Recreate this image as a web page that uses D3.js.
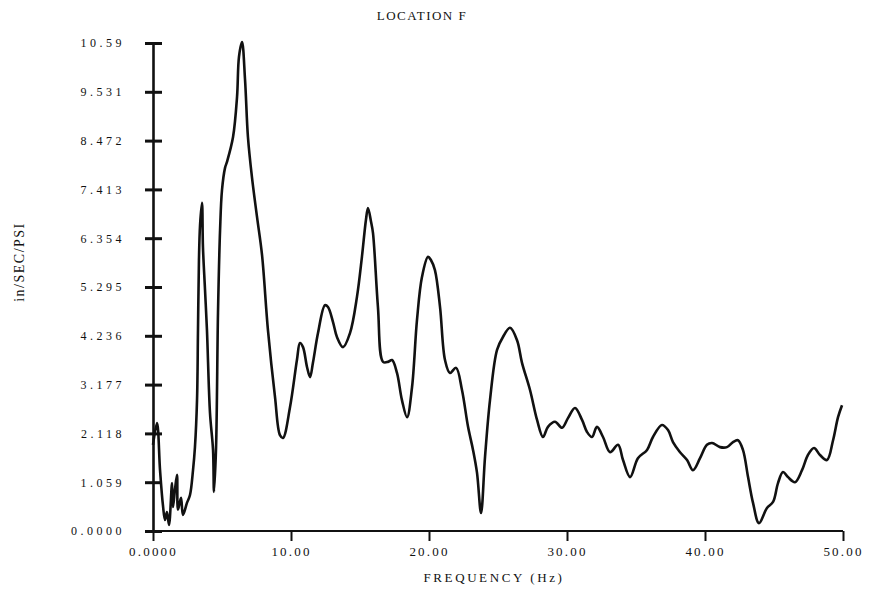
<!DOCTYPE html>
<html><head><meta charset="utf-8">
<script src="https://cdn.jsdelivr.net/npm/d3@7"></script>
<style>body{margin:0;background:#fff}svg text{font-family:"Liberation Serif","DejaVu Serif",serif;fill:#111}</style>
</head><body>
<svg id="c" width="871" height="593"></svg>
<script>
const freq = [0,0.29,0.51,0.72,0.87,1.01,1.16,1.38,1.45,1.59,1.74,1.81,2.03,2.17,2.46,2.68,2.90,3.04,3.19,3.26,3.33,3.41,3.55,3.62,3.77,3.91,4.13,4.35,4.42,4.57,4.71,4.86,5.0,5.22,5.36,5.80,6.09,6.23,6.45,6.67,6.88,7.17,7.54,7.90,8.33,8.84,9.20,9.42,9.93,10.43,10.65,10.87,11.16,11.38,11.59,11.96,12.46,12.68,13.04,13.33,13.77,14.28,14.78,15.14,15.43,15.58,15.80,15.94,16.30,16.67,17.03,17.32,17.68,18.04,18.41,18.77,19.13,19.49,19.93,20.14,20.43,20.80,21.16,21.52,21.96,22.39,22.83,23.19,23.48,23.77,24.06,24.42,24.93,25.36,25.87,26.38,26.74,27.32,27.83,28.26,28.62,29.13,29.64,30.07,30.58,31.09,31.45,31.81,32.17,32.61,33.12,33.70,34.06,34.57,35.14,35.80,36.23,36.88,37.32,37.68,38.19,38.70,39.13,39.64,40.14,40.51,41.09,41.59,42.03,42.39,42.75,43.12,43.48,43.91,44.49,44.93,45.29,45.65,46.01,46.52,47.03,47.46,47.90,48.33,48.84,49.28,49.64,49.93];
const resp = [1.87,2.34,1.32,0.56,0.24,0.41,0.13,1.04,0.52,0.89,1.22,0.46,0.72,0.35,0.61,0.78,1.32,1.82,2.84,4.36,5.88,6.64,7.12,6.16,5.23,4.36,2.56,1.76,0.85,1.82,4.73,6.53,7.40,7.88,8.01,8.55,9.42,10.29,10.61,9.79,8.55,7.68,6.81,5.99,4.36,2.91,2.08,2.02,2.69,3.71,4.08,3.99,3.56,3.34,3.65,4.30,4.90,4.86,4.54,4.21,3.99,4.30,5.08,5.95,6.75,7.01,6.71,6.47,4.86,3.67,3.67,3.71,3.43,2.84,2.47,3.12,4.58,5.51,5.95,5.88,5.66,4.86,3.71,3.43,3.54,3.06,2.26,1.76,1.26,0.39,1.61,2.84,3.93,4.21,4.41,4.14,3.65,3.06,2.41,2.04,2.26,2.37,2.24,2.45,2.67,2.41,2.15,2.04,2.26,2.04,1.71,1.87,1.54,1.17,1.58,1.76,2.04,2.30,2.19,1.93,1.71,1.54,1.32,1.58,1.87,1.91,1.82,1.82,1.93,1.97,1.76,1.17,0.61,0.17,0.50,0.63,1.04,1.28,1.17,1.06,1.32,1.65,1.80,1.65,1.54,1.97,2.47,2.73];
const xTicks = [0,10,20,30,40,50];
const xTickLabels = ["0.0000","10.00","20.00","30.00","40.00","50.00"];
const yTicks = [0,1.059,2.118,3.177,4.236,5.295,6.354,7.413,8.472,9.531,10.59];
const yTickLabels = ["0.0000","1.059","2.118","3.177","4.236","5.295","6.354","7.413","8.472","9.531","10.59"];
const title = "LOCATION F", xTitle = "FREQUENCY (Hz)", yTitle = "in/SEC/PSI";

const svg = d3.select("#c");
const x = d3.scaleLinear().domain([0,50]).range([153,843]);
const y = d3.scaleLinear().domain([0,10.59]).range([531,43]);

// x axis
const xa = svg.append("g").attr("transform","translate(0,531)")
  .call(d3.axisBottom(x).tickValues(xTicks).tickFormat((d,i)=>xTickLabels[i]).tickSize(10).tickPadding(6));
xa.select(".domain").attr("stroke","#111").attr("stroke-width",2).attr("d","M146,0H843");
xa.selectAll(".tick line").attr("stroke","#111").attr("stroke-width",2);
xa.selectAll(".tick text").attr("font-size",13).attr("letter-spacing","2.2px").attr("font-family","Liberation Serif");

// y axis (ticks crossing the axis)
const ya = svg.append("g").attr("transform","translate(153,0)")
  .call(d3.axisLeft(y).tickValues(yTicks).tickFormat((d,i)=>yTickLabels[i]).tickSizeInner(-9).tickSizeOuter(0).tickPadding(28));
ya.select(".domain").attr("stroke","#111").attr("stroke-width",2.6);
ya.selectAll(".tick line").attr("stroke","#111").attr("stroke-width",3).attr("x1",-8).attr("x2",9);
ya.selectAll(".tick text").attr("font-size",12).attr("letter-spacing","3.5px").attr("font-family","Liberation Serif");

// curve
const data = freq.map((f,i)=>[f,resp[i]]);
svg.append("path").datum(data)
  .attr("fill","none").attr("stroke","#111").attr("stroke-width",2.6).attr("stroke-linejoin","round")
  .attr("d", d3.line().x(d=>x(d[0])).y(d=>y(d[1])).curve(d3.curveCatmullRom.alpha(0.5)));

svg.append("text").attr("x",422).attr("y",20).attr("text-anchor","middle").attr("font-size",13).attr("letter-spacing","1.5px").text(title);
svg.append("text").attr("x",494).attr("y",582).attr("text-anchor","middle").attr("font-size",13).attr("letter-spacing","2.6px").text(xTitle);
svg.append("text").attr("transform","translate(24,262) rotate(-90)").attr("text-anchor","middle").attr("font-size",14).attr("letter-spacing","1.5px").text(yTitle);
</script>
</body></html>
